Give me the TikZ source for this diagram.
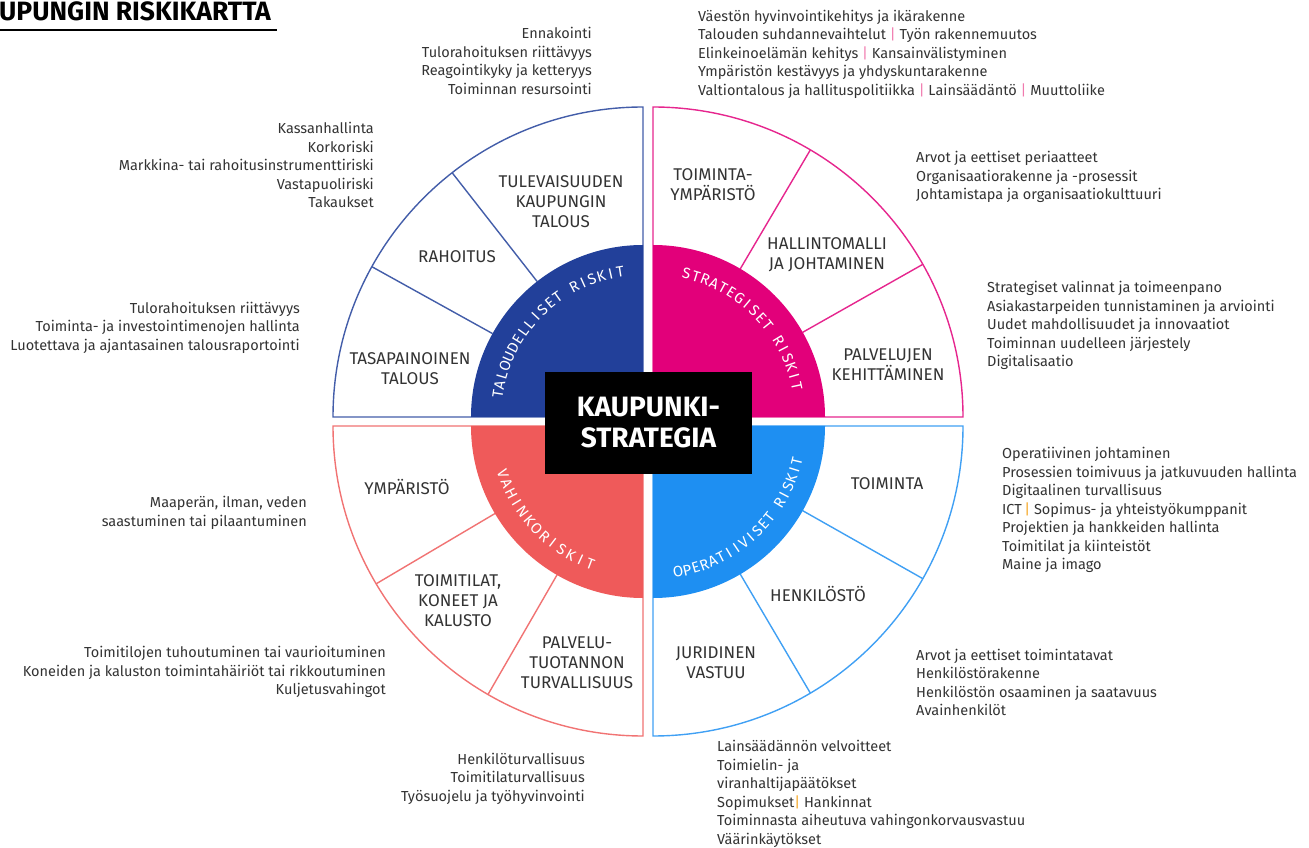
\documentclass[tikz,border=0pt]{standalone}
\usepackage{fontspec}
\setmainfont{Fira Sans}
\usetikzlibrary{calc}
\definecolor{talous}{HTML}{22409A}
\definecolor{strat}{HTML}{E2007A}
\definecolor{vahinko}{HTML}{EF5A5A}
\definecolor{oper}{HTML}{1E8FF2}
\definecolor{ink}{HTML}{333333}
\definecolor{sepink}{HTML}{F07AAE}
\definecolor{seporange}{HTML}{F5A623}
\newcommand{\pbar}{{\color{sepink}|}}
\newcommand{\obar}{{\color{seporange}|}}
\tikzset{
  ring/.style={draw=#1,line width=1.4pt,fill=white},
  spoke/.style={draw=#1,line width=1.4pt},
  note/.style={font=\fontsize{14.5}{18.5}\selectfont,text=ink,inner sep=0pt,align=#1},
  note/.default=left,
  sector/.style={font=\fontsize{17}{20}\selectfont,text=ink,inner sep=0pt,align=center},
  arcchar/.style={font=\fontsize{15}{15}\selectfont,text=white,inner sep=0pt},
  core/.style={fill=black,text=white,font=\fontsize{28}{31}\selectfont\bfseries,align=center,
    minimum width=207pt,minimum height=102pt,inner sep=0pt},
}

\begin{document}
\begin{tikzpicture}[x=1pt,y=1pt]
  \useasboundingbox (0,0) rectangle (1309,847);
  % title
  \node[anchor=base west,inner sep=0pt,font=\fontsize{26.5}{30}\selectfont\bfseries,text=black] (title) at (-1,826) {UPUNGIN RISKIKARTTA};
  \draw[line width=2pt] (0,817) -- (277,817);

  % quadrants
  \foreach \cx/\cy/\a/\c/\d/\e [evaluate=\a as \b using \a+90] in
    {643/430/90/talous/128/151,653/430/0/strat/29.5/59.5,643/421/180/vahinko/210.6/240,653/421/270/oper/300.5/330.5}{
    \draw[ring=\c!85] (\cx,\cy) -- ++(\a:310) arc (\a:\b:310) -- cycle;
    \draw[spoke=\c!85] (\cx,\cy) ++(\d:172) -- ++(\d:138) (\cx,\cy) ++(\e:172) -- ++(\e:138);
    \fill[\c] (\cx,\cy) -- ++(\a:172) arc (\a:\b:172) -- cycle;
  }

  % curved headings
  \begin{scope}[shift={(643,430)}]
    \foreach \l [count=\i from 0, evaluate=\i as \t using 171.1-\i*3.8] in {T,A,L,O,U,D,E,L,L,I,S,E,T,{},R,I,S,K,I,T}
      \node[arcchar,rotate=\t-90] (tl\i) at (\t:147) {\l};
  \end{scope}
  \begin{scope}[shift={(653,430)}]
    \foreach \l [count=\i from 0, evaluate=\i as \t using 76.8-\i*3.8] in {S,T,R,A,T,E,G,I,S,E,T,{},R,I,S,K,I,T}
      \node[arcchar,rotate=\t-90] (tr\i) at (\t:147) {\l};
  \end{scope}
  \begin{scope}[shift={(643,421)}]
    \foreach \l [count=\i from 0, evaluate=\i as \t using 198.8+\i*4.2] in {V,A,H,I,N,K,O,R,I,S,K,I,T}
      \node[arcchar,rotate=\t+90] (bl\i) at (\t:148) {\l};
  \end{scope}
  \begin{scope}[shift={(653,421)}]
    \foreach \l [count=\i from 0, evaluate=\i as \t using 279.8+\i*3.5] in {O,P,E,R,A,T,I,I,V,I,S,E,T,{},R,I,S,K,I,T}
      \node[arcchar,rotate=\t+90] (br\i) at (\t:148) {\l};
  \end{scope}

  \node[core] (core) at (648.5,424) {KAUPUNKI-\\STRATEGIA};

  % sector labels
  \node[sector] (s1) at (561,645) {TULEVAISUUDEN\\KAUPUNGIN\\TALOUS};
  \node[sector] (s2) at (457,590) {RAHOITUS};
  \node[sector] (s3) at (410,478) {TASAPAINOINEN\\TALOUS};
  \node[sector] (s4) at (713,662) {TOIMINTA-\\YMPÄRISTÖ};
  \node[sector] (s5) at (827,592) {HALLINTOMALLI\\JA JOHTAMINEN};
  \node[sector] (s6) at (888,482.5) {PALVELUJEN\\KEHITTÄMINEN};
  \node[sector] (s7) at (407,360) {YMPÄRISTÖ};
  \node[sector] (s8) at (458,246) {TOIMITILAT,\\KONEET JA\\KALUSTO};
  \node[sector] (s9) at (577,184) {PALVELU-\\TUOTANNON\\TURVALLISUUS};
  \node[sector] (s10) at (887,363) {TOIMINTA};
  \node[sector] (s11) at (818,253) {HENKILÖSTÖ};
  \node[sector] (s12) at (716,184.5) {JURIDINEN\\VASTUU};

  % risk notes
  \node[note=right,anchor=east] (fut) at (592,786) {Ennakointi\\Tulorahoituksen riittävyys\\Reagointikyky ja ketteryys\\Toiminnan resursointi};
  \node[note=right,anchor=east] (fin) at (374,682) {Kassanhallinta\\Korkoriski\\Markkina- tai rahoitusinstrumenttiriski\\Vastapuoliriski\\Takaukset};
  \node[note=right,anchor=east] (bal) at (300,519.5) {Tulorahoituksen riittävyys\\Toiminta- ja investointimenojen hallinta\\Luotettava ja ajantasainen talousraportointi};
  \node[note,anchor=west] (env) at (698,793) {Väestön hyvinvointikehitys ja ikärakenne\\Talouden suhdannevaihtelut \pbar{} Työn rakennemuutos\\Elinkeinoelämän kehitys \pbar{} Kansainvälistyminen\\Ympäristön kestävyys ja yhdyskuntarakenne\\Valtiontalous ja hallituspolitiikka \pbar{} Lainsäädäntö \pbar{} Muuttoliike};
  \node[note,anchor=west] (gov) at (916,670) {Arvot ja eettiset periaatteet\\Organisaatiorakenne ja -prosessit\\Johtamistapa ja organisaatiokulttuuri};
  \node[note,anchor=west] (dev) at (987,521.5) {Strategiset valinnat ja toimeenpano\\Asiakastarpeiden tunnistaminen ja arviointi\\Uudet mahdollisuudet ja innovaatiot\\Toiminnan uudelleen järjestely\\Digitalisaatio};
  \node[note,anchor=west] (ops) at (1002,337) {Operatiivinen johtaminen\\Prosessien toimivuus ja jatkuvuuden hallinta\\Digitaalinen turvallisuus\\ICT\,\obar{} Sopimus- ja yhteistyökumppanit\\Projektien ja hankkeiden hallinta\\Toimitilat ja kiinteistöt\\Maine ja imago};
  \node[note,anchor=west] (hr) at (916,164.5) {Arvot ja eettiset toimintatavat\\Henkilöstörakenne\\Henkilöstön osaaminen ja saatavuus\\Avainhenkilöt};
  \node[note,anchor=west] (law) at (717,53) {Lainsäädännön velvoitteet\\Toimielin- ja\\viranhaltijapäätökset\\Sopimukset\obar{} Hankinnat\\Toiminnasta aiheutuva vahingonkorvausvastuu\\Väärinkäytökset};
  \node[note=right,anchor=east] (nat) at (307,334) {Maaperän, ilman, veden\\saastuminen tai pilaantuminen};
  \node[note=right,anchor=east] (fac) at (386,175) {Toimitilojen tuhoutuminen tai vaurioituminen\\Koneiden ja kaluston toimintahäiriöt tai rikkoutuminen\\Kuljetusvahingot};
  \node[note=right,anchor=east] (saf) at (585,68.5) {Henkilöturvallisuus\\Toimitilaturvallisuus\\Työsuojelu ja työhyvinvointi};
\end{tikzpicture}
\end{document}
